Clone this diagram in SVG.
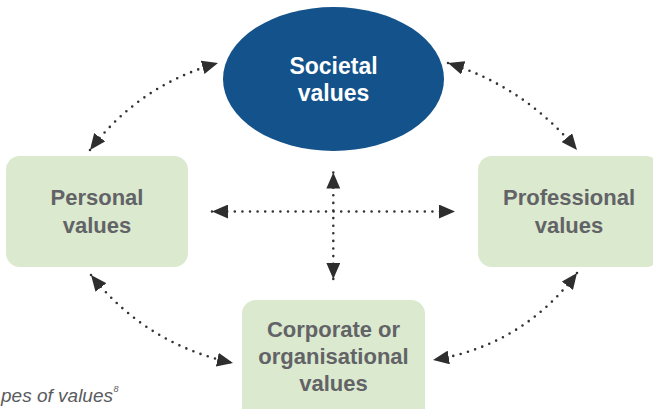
<svg xmlns="http://www.w3.org/2000/svg" width="653" height="409" viewBox="0 0 653 409">
<style>
.box{fill:#dbe9cf;}
.lbl{font-family:"Liberation Sans",Arial,sans-serif;font-weight:bold;font-size:22px;fill:#626366;text-anchor:middle;}
.wl{fill:#ffffff;font-size:23px;}
.con{fill:none;stroke:#333333;stroke-width:2.6;stroke-linecap:round;stroke-dasharray:0 7.6;marker-start:url(#ah);marker-end:url(#ah);}
.cap{font-family:"Liberation Sans",Arial,sans-serif;font-style:italic;fill:#5a5b5d;}
</style>
<defs>
<marker id="ah" markerUnits="userSpaceOnUse" markerWidth="16" markerHeight="14" refX="15" refY="6.5" orient="auto-start-reverse" viewBox="0 0 15 13">
<path d="M0,0 L15,6.5 L0,13 z" fill="#2e2e2e"/>
</marker>
</defs>
<rect width="653" height="409" fill="#ffffff"/>
<g id="connectors">
<path class="con" d="M90,150 Q139.4,85 218,63"/>
<path class="con" d="M448,63 Q525.4,87.4 577,150"/>
<path class="con" d="M577,273 Q522.6,345.6 433,360"/>
<path class="con" d="M91,275 Q146.2,344.5 233,363"/>
<path class="con" d="M212,211.5 L455,211.5"/>
<path class="con" d="M333.3,172.5 L333.3,279"/>
</g>
<g id="societal">
<ellipse cx="333.5" cy="79" rx="110.5" ry="72" fill="#13528b"/>
<text class="lbl wl" x="333.5" y="74">Societal</text>
<text class="lbl wl" x="333.5" y="101">values</text>
</g>
<g id="personal">
<rect class="box" x="6" y="156" width="182" height="111" rx="14"/>
<text class="lbl" x="97" y="205">Personal</text>
<text class="lbl" x="97" y="233">values</text>
</g>
<g id="professional">
<rect class="box" x="478" y="156" width="182" height="111" rx="14"/>
<text class="lbl" x="569" y="205">Professional</text>
<text class="lbl" x="569" y="233">values</text>
</g>
<g id="corporate">
<rect class="box" x="242" y="300" width="183" height="125" rx="14"/>
<text class="lbl" x="333.5" y="337">Corporate or</text>
<text class="lbl" x="333.5" y="364">organisational</text>
<text class="lbl" x="333.5" y="391">values</text>
</g>
<g id="caption">
<text class="cap" x="113" y="402" font-size="19" text-anchor="end">pes of values</text>
<text class="cap" x="113.5" y="392" font-size="9">8</text>
</g>
</svg>
